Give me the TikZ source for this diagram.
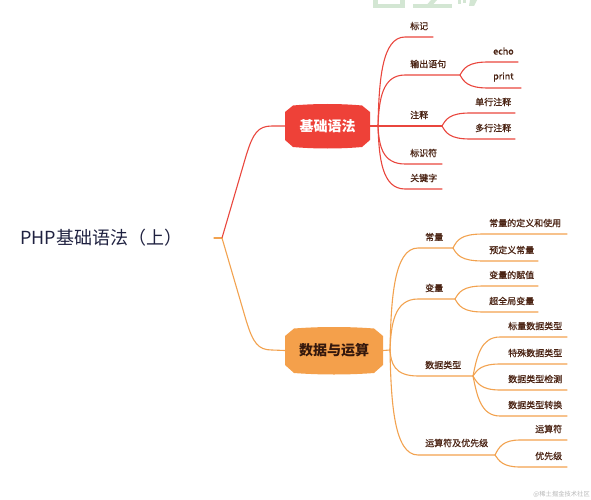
\documentclass[tikz,border=0pt]{standalone}
\usepackage{fontspec}
\setmainfont{Noto Sans CJK SC}
\newfontfamily\lblfont[FakeBold=0.8]{Noto Sans CJK SC}
\definecolor{cred}{HTML}{E9463D}
\definecolor{corg}{HTML}{F2A24F}
\definecolor{cboxr}{HTML}{EE4138}
\definecolor{cboxo}{HTML}{F4A04B}
\definecolor{ctxt}{HTML}{4A2313}
\definecolor{croot}{HTML}{1F2140}
\definecolor{cwm}{HTML}{D3E6D3}
\begin{document}
\begin{tikzpicture}[x=1pt,y=-1pt,
 lbl/.style={anchor=west,inner sep=0pt,font=\lblfont\fontsize{9}{9}\selectfont,text=ctxt},
 rl/.style={draw=cred,line width=1.1pt,line cap=round},
 ol/.style={draw=corg,line width=1.1pt,line cap=round},
 boxlbl/.style={inner sep=0pt,font=\fontsize{14}{14}\selectfont\bfseries},
]
\useasboundingbox (0,0) rectangle (591,500);
% watermark top
\fill[cwm] (373,0) rectangle (378,8);
\fill[cwm] (373,4) rectangle (405,8);
\fill[cwm] (400,0) rectangle (405,8);
\fill[cwm] (413,4) rectangle (452,8);
\fill[cwm] (424,8) -- (431,0) -- (437,0) -- (430,8) -- cycle;
\fill[cwm] (458,0) rectangle (461,4);
\fill[cwm] (463,0) rectangle (466,3);
\fill[cwm] (470,0) -- (477,0) -- (474,6) -- (469,6) -- cycle;
% watermark bottom
\node[anchor=east,inner sep=0pt,font=\fontsize{6.3}{6.3}\selectfont,text=black!28] (wm) at (590,494) {@稀土掘金技术社区};

% root
\node[anchor=west,inner sep=0pt,font=\fontsize{18}{18}\selectfont,text=croot] (root) at (20,238) {PHP基础语法（上）};
\coordinate (rs) at (214,238);
\coordinate (rj) at (222,238);

% boxes
\fill[cboxr] (285,112) -- (293,105.5) .. controls (315,103.5) and (340,103.5) .. (362,105.5) -- (370,112) -- (370,140) -- (362,147) .. controls (340,149) and (315,149) .. (293,147) -- (285,140) -- cycle;
\node[boxlbl,text=white,minimum width=85pt,minimum height=42pt] (b1) at (327.5,126) {基础语法};
\fill[cboxo] (285,336) -- (294,328.5) .. controls (320,326.5) and (348,326.5) .. (374,328.5) -- (383,336) -- (383,365) -- (374,373) .. controls (348,375) and (320,375) .. (294,373) -- (285,365) -- cycle;
\node[boxlbl,text=ctxt!70!black,minimum width=98pt,minimum height=45pt] (b2) at (334,350.5) {数据与运算};

% root connectors
\draw[ol] (rs) -- (rj);
\draw[rl] (rj) -- (246,156) .. controls (253,133) and (258,126) .. (272,126) -- (b1.west);
\draw[ol] (rj) -- (246,320) .. controls (253,343) and (258,350) .. (272,350) -- (b2.west);

% ===== red branch =====
\coordinate (rstem) at (378,126);
\draw[rl] (b1.east) -- (rstem);
% 标记
\coordinate (a1s) at (405,37); \coordinate (a1e) at (433,37);
\node[lbl] (a1) at (410,26) {标记};
\draw[rl] (rstem) .. controls (379,80) and (382,37) .. (a1s) -- (a1e);
% 输出语句
\coordinate (a2s) at (405,75); \coordinate (a2e) at (460,75);
\node[lbl] (a2) at (410,64) {输出语句};
\draw[rl] (rstem) .. controls (379,100) and (382,75) .. (a2s) -- (a2e);
\coordinate (a21s) at (488,62); \coordinate (a21e) at (518,62);
\node[lbl] (a21) at (493,51) {echo};
\draw[rl] (a2e) .. controls (464,68) and (468,62) .. (a21s) -- (a21e);
\coordinate (a22s) at (488,88); \coordinate (a22e) at (521,88);
\node[lbl] (a22) at (493,77) {print};
\draw[rl] (a2e) .. controls (464,82) and (468,88) .. (a22s) -- (a22e);
% 注释
\coordinate (a3e) at (442,126);
\node[lbl] (a3) at (410,115) {注释};
\draw[rl] (rstem) -- (a3e);
\coordinate (a31s) at (470,113); \coordinate (a31e) at (515,113);
\node[lbl] (a31) at (475,102) {单行注释};
\draw[rl] (a3e) .. controls (446,119) and (450,113) .. (a31s) -- (a31e);
\coordinate (a32s) at (470,139); \coordinate (a32e) at (515,139);
\node[lbl] (a32) at (475,128) {多行注释};
\draw[rl] (a3e) .. controls (446,133) and (450,139) .. (a32s) -- (a32e);
% 标识符
\coordinate (a4s) at (405,164); \coordinate (a4e) at (442,164);
\node[lbl] (a4) at (410,153) {标识符};
\draw[rl] (rstem) .. controls (379,145) and (382,164) .. (a4s) -- (a4e);
% 关键字
\coordinate (a5s) at (405,189); \coordinate (a5e) at (442,189);
\node[lbl] (a5) at (410,178) {关键字};
\draw[rl] (rstem) .. controls (379,158) and (382,189) .. (a5s) -- (a5e);

% ===== orange branch =====
\coordinate (ostem) at (390,350);
\draw[ol] (b2.east) -- (ostem);
% 常量
\coordinate (c1s) at (418,248); \coordinate (c1e) at (453,248);
\node[lbl] (c1) at (425,237) {常量};
\draw[ol] (ostem) .. controls (391,299) and (394,248) .. (c1s) -- (c1e);
\coordinate (c11s) at (483,234); \coordinate (c11e) at (567,234);
\node[lbl] (c11) at (489,223) {常量的定义和使用};
\draw[ol] (c1e) .. controls (457,240) and (461,234) .. (c11s) -- (c11e);
\coordinate (c12s) at (483,261); \coordinate (c12e) at (538,261);
\node[lbl] (c12) at (489,250) {预定义常量};
\draw[ol] (c1e) .. controls (457,255) and (461,261) .. (c12s) -- (c12e);
% 变量
\coordinate (c2s) at (418,299); \coordinate (c2e) at (455,299);
\node[lbl] (c2) at (425,288) {变量};
\draw[ol] (ostem) .. controls (391,325) and (394,299) .. (c2s) -- (c2e);
\coordinate (c21s) at (483,286); \coordinate (c21e) at (538,286);
\node[lbl] (c21) at (489,275) {变量的赋值};
\draw[ol] (c2e) .. controls (459,292) and (463,286) .. (c21s) -- (c21e);
\coordinate (c22s) at (483,312); \coordinate (c22e) at (538,312);
\node[lbl] (c22) at (489,301) {超全局变量};
\draw[ol] (c2e) .. controls (459,306) and (463,312) .. (c22s) -- (c22e);
% 数据类型
\coordinate (c3s) at (418,376); \coordinate (c3e) at (473,376);
\node[lbl] (c3) at (425,365) {数据类型};
\draw[ol] (ostem) .. controls (391,363) and (394,376) .. (c3s) -- (c3e);
\coordinate (c31s) at (500,337); \coordinate (c31e) at (567,337);
\node[lbl] (c31) at (508,326) {标量数据类型};
\draw[ol] (c3e) .. controls (477,356) and (481,337) .. (c31s) -- (c31e);
\coordinate (c32s) at (500,364); \coordinate (c32e) at (567,364);
\node[lbl] (c32) at (508,353) {特殊数据类型};
\draw[ol] (c3e) .. controls (477,370) and (481,364) .. (c32s) -- (c32e);
\coordinate (c33s) at (500,390); \coordinate (c33e) at (567,390);
\node[lbl] (c33) at (508,379) {数据类型检测};
\draw[ol] (c3e) .. controls (477,383) and (481,390) .. (c33s) -- (c33e);
\coordinate (c34s) at (500,416); \coordinate (c34e) at (567,416);
\node[lbl] (c34) at (508,405) {数据类型转换};
\draw[ol] (c3e) .. controls (477,396) and (481,416) .. (c34s) -- (c34e);
% 运算符及优先级
\coordinate (c4s) at (418,455); \coordinate (c4e) at (495,455);
\node[lbl] (c4) at (425,443) {运算符及优先级};
\draw[ol] (ostem) .. controls (391,402) and (394,455) .. (c4s) -- (c4e);
\coordinate (c41s) at (520,440); \coordinate (c41e) at (567,440);
\node[lbl] (c41) at (535,429) {运算符};
\draw[ol] (c4e) .. controls (499,447) and (503,440) .. (c41s) -- (c41e);
\coordinate (c42s) at (520,467); \coordinate (c42e) at (567,467);
\node[lbl] (c42) at (535,456) {优先级};
\draw[ol] (c4e) .. controls (499,461) and (503,467) .. (c42s) -- (c42e);
\end{tikzpicture}
\end{document}
